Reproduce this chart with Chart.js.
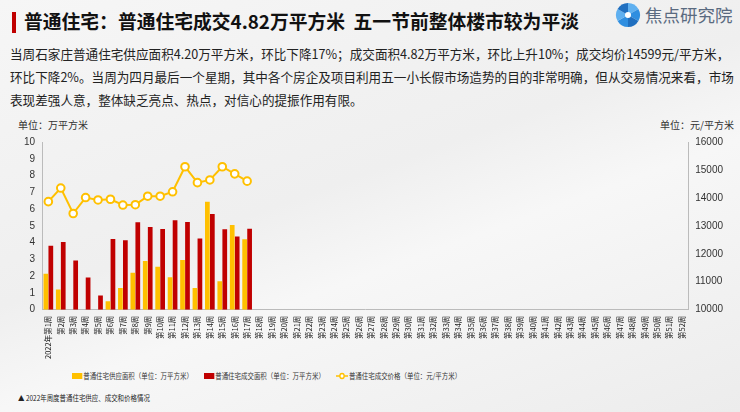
<!DOCTYPE html>
<html>
<head>
<meta charset="utf-8">
<script src="https://cdn.jsdelivr.net/npm/chart.js@4.4.0/dist/chart.umd.min.js"></script>
<style>
  body { margin: 0; width: 740px; height: 412px; overflow: hidden; font-family: "Noto Sans CJK SC", "Noto Sans", sans-serif; }
  .page { position: relative; width: 740px; height: 412px; background: linear-gradient(160deg, #f6f6f6 0%, #efefef 45%, #f7f7f7 60%, #ececec 100%); }
  .bar { position: absolute; left: 12px; top: 12px; width: 4px; height: 21px; background: #c00000; }
  .title { position: absolute; left: 24px; top: 7px; font-size: 18.8px; font-weight: bold; color: #111; white-space: nowrap; }
  .logo { position: absolute; left: 645px; top: 2px; font-size: 17.5px; color: #5a6a80; }
  .para { position: absolute; left: 10px; top: 42px; font-size: 12.6px; line-height: 23px; color: #222; white-space: nowrap; }
  .unit { position: absolute; top: 117px; font-size: 10px; color: #333; }
  .cap { position: absolute; left: 18px; top: 392px; font-size: 7.5px; color: #222; white-space: nowrap; transform: scaleX(0.86); transform-origin: 0 0; }
  .legenda { position: absolute; top: 370px; font-size: 7.5px; color: #333; white-space: nowrap; transform: scaleX(0.86); transform-origin: 0 0; display: flex; align-items: center; }
  .legenda i { display: inline-block; width: 12px; height: 6px; margin-right: 1px; }
  canvas#c { position: absolute; left: 0; top: 128px; }
</style>
</head>
<body>
<div class="page">
  <div class="bar"></div>
  <div class="title">普通住宅：普通住宅成交4.82万平方米&nbsp; 五一节前整体楼市较为平淡</div>
  <svg style="position:absolute;left:614px;top:2px" width="28" height="26" viewBox="-13 -13 26 26">
    <g fill="#2f8ee0">
      <path d="M0 0 L0 -12 A12 12 0 0 1 10.4 -6 Z" fill="#5fb0f0"/>
      <path d="M0 0 L10.4 -6 A12 12 0 0 1 10.4 6 Z"/>
      <path d="M0 0 L10.4 6 A12 12 0 0 1 0 12 Z" fill="#1f6fc0"/>
      <path d="M0 0 L0 12 A12 12 0 0 1 -10.4 6 Z"/>
      <path d="M0 0 L-10.4 6 A12 12 0 0 1 -10.4 -6 Z" fill="#5fb0f0"/>
      <path d="M0 0 L-10.4 -6 A12 12 0 0 1 0 -12 Z" fill="#1f6fc0"/>
    </g>
    <circle r="3" fill="#fff"/>
  </svg>
  <div class="logo">焦点研究院</div>
  <div class="para">当周石家庄普通住宅供应面积4.20万平方米，环比下降17%；成交面积4.82万平方米，环比上升10%；成交均价14599元/平方米，<br>环比下降2%。当周为四月最后一个星期，其中各个房企及项目利用五一小长假市场造势的目的非常明确，但从交易情况来看，市场<br>表现差强人意，整体缺乏亮点、热点，对信心的提振作用有限。</div>
  <div class="unit" style="left:18px">单位：万平方米</div>
  <div class="unit" style="left:660px">单位：元/平方米</div>
  <canvas id="c" width="740" height="233"></canvas>
  <div class="legenda" style="left:72px"><i style="background:#FFC000"></i>普通住宅供应面积（单位：万平方米）</div>
  <div class="legenda" style="left:204px"><i style="background:#C00000"></i>普通住宅成交面积（单位：万平方米）</div>
  <div class="legenda" style="left:336px"><svg width="14" height="8" style="margin-right:1px"><line x1="0" y1="4" x2="14" y2="4" stroke="#FFC000" stroke-width="1.5"/><circle cx="7" cy="4" r="2.5" fill="#fff" stroke="#FFC000" stroke-width="1.5"/></svg>普通住宅成交价格（单位：元/平方米）</div>
  <div class="cap">▲ 2022年周度普通住宅供应、成交和价格情况</div>
</div>
<script>
// 周次
var semanas = [];
for (var i = 1; i <= 52; i++) {
  semanas.push(i === 1 ? "2022年第1周" : "第" + i + "周");
}
// 供应面积（万平方米）
var ofertaArea = [2.15, 1.2, 0, 0, 0, 0.5, 1.3, 2.2, 2.9, 2.56, 1.94, 2.97, 1.3, 6.44, 1.7, 5.05, 4.2];
// 成交面积（万平方米）
var vendaArea = [3.82, 4.04, 2.93, 1.92, 0.85, 4.22, 4.14, 5.21, 4.93, 4.81, 5.33, 5.23, 4.24, 5.7, 4.79, 4.36, 4.82];
// 成交价格（元/平方米）
var precoMedio = [13866, 14353, 13442, 14012, 13927, 13951, 13745, 13757, 14060, 14060, 14218, 15115, 14545, 14642, 15115, 14860, 14599];

function completar(arr) {
  var out = arr.slice();
  while (out.length < 52) out.push(null);
  return out;
}

var laranja = "#FFC000";
var vermelho = "#C00000";

const ctx = document.getElementById("c").getContext("2d");
const grafico = new Chart(ctx, {
  type: "bar",
  data: {
    labels: semanas,
    datasets: [
      {
        label: "普通住宅供应面积（单位：万平方米）",
        data: completar(ofertaArea),
        backgroundColor: laranja,
        yAxisID: "y",
        order: 2,
        categoryPercentage: 0.8,
        barPercentage: 0.95,
      },
      {
        label: "普通住宅成交面积（单位：万平方米）",
        data: completar(vendaArea),
        backgroundColor: vermelho,
        yAxisID: "y",
        order: 2,
        categoryPercentage: 0.8,
        barPercentage: 0.95,
      },
      {
        type: "line",
        label: "普通住宅成交价格（单位：元/平方米）",
        data: completar(precoMedio),
        borderColor: laranja,
        backgroundColor: "#fff",
        borderWidth: 2,
        pointRadius: 3.8,
        pointBorderWidth: 2,
        pointBackgroundColor: "#fff",
        pointBorderColor: laranja,
        yAxisID: "y1",
        order: 1,
        tension: 0,
      },
    ],
  },
  options: {
    responsive: false,
    animation: false,
    layout: { padding: { left: 21, right: 14, top: 14, bottom: 0 } },
    plugins: {
      tooltip: { enabled: false },
      legend: { display: false },
    },
    scales: {
      x: {
        grid: { display: false, drawTicks: true, tickLength: 4, color: "#bbb" },
        border: { color: "#bbb" },
        ticks: {
          autoSkip: false,
          maxRotation: 90,
          minRotation: 90,
          padding: 2,
          color: "#222",
          font: { size: 7.5, family: "Noto Sans CJK SC" },
        },
      },
      y: {
        position: "left",
        min: 0,
        max: 10,
        grid: { display: false, drawTicks: true, tickLength: 4 },
        border: { color: "#bbb" },
        ticks: { stepSize: 1, autoSkip: false, color: "#333", font: { size: 10 } },
      },
      y1: {
        position: "right",
        min: 10000,
        max: 16000,
        grid: { display: false, drawTicks: true, tickLength: 4 },
        border: { color: "#bbb" },
        ticks: {
          stepSize: 1000,
          autoSkip: false,
          color: "#333",
          font: { size: 10 },
          callback: function (v) { return String(v); },
        },
      },
    },
  },
});
</script>
</body>
</html>
